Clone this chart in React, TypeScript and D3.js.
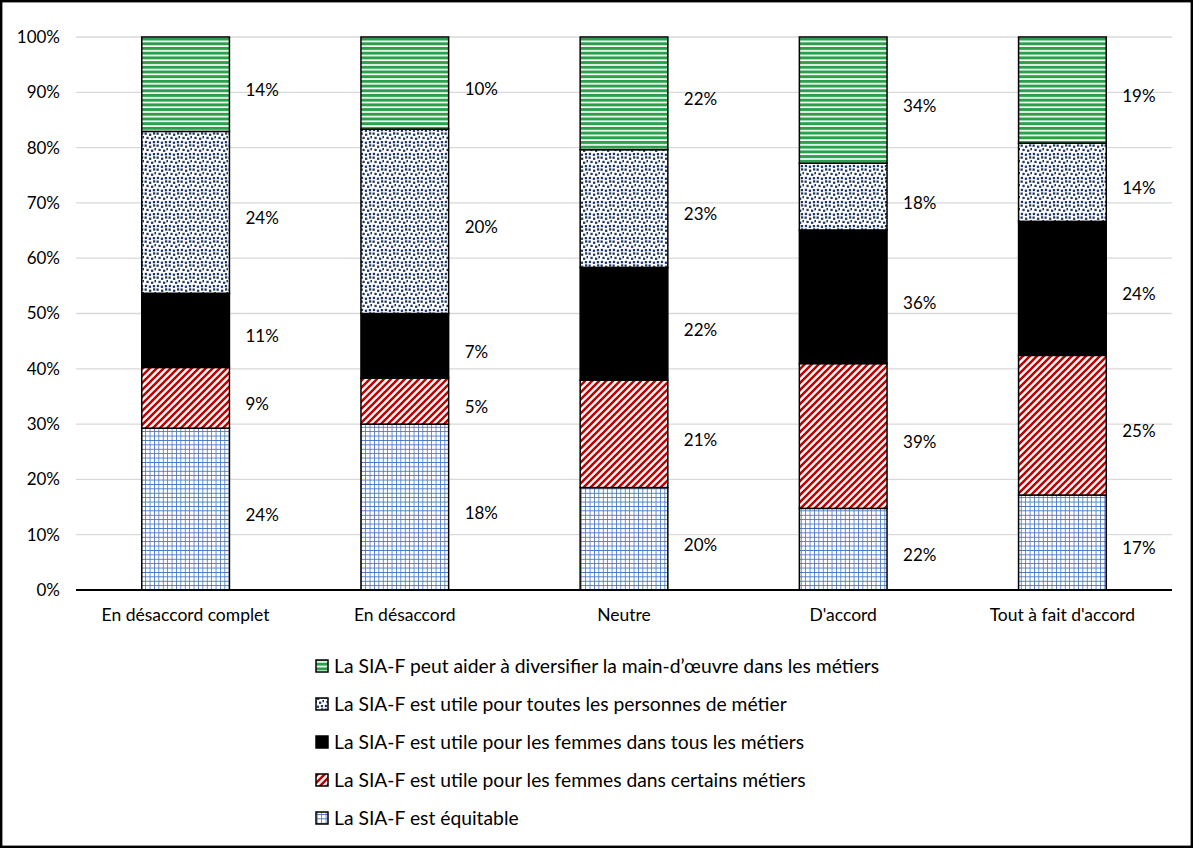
import React from 'react';
import * as d3 from 'd3';

const categories = ["En désaccord complet", "En désaccord", "Neutre", "D'accord", "Tout à fait d'accord"];
const equitable = [24, 18, 20, 22, 17];
const certains = [9, 5, 21, 39, 25];
const tous = [11, 7, 22, 36, 24];
const toutes = [24, 20, 23, 18, 14];
const diversifier = [14, 10, 22, 34, 19];
const yTicks = [0, 0.1, 0.2, 0.3, 0.4, 0.5, 0.6, 0.7, 0.8, 0.9, 1];

const seriesNames = [
    "La SIA-F est équitable",
    "La SIA-F est utile pour les femmes dans certains métiers",
    "La SIA-F est utile pour les femmes dans tous les métiers",
    "La SIA-F est utile pour toutes les personnes de métier",
    "La SIA-F peut aider à diversifier la main-d’œuvre dans les métiers",
];
const seriesFills = ["url(#p-grid)", "url(#p-diag)", "#000000", "url(#p-confetti)", "url(#p-stripe)"];

const W = 1193;
const H = 848;
const margin = { top: 37, right: 21, bottom: 258, left: 76 };
const FONT = "Lato, 'Open Sans', sans-serif";

// confetti squares inside a 12x12 tile
const confetti = [[0.5, 0.5], [5, 1.6], [9, 0.3], [2.4, 4.8], [7, 5.6], [10.4, 4], [0.8, 8.8], [4.8, 9.6], [8.8, 9]];

const App = () => {
    const allSeries = [equitable, certains, tous, toutes, diversifier];
    const table = categories.map((c, i) => {
        const row: any = { cat: c };
        allSeries.forEach((s, k) => { row["s" + k] = s[i]; });
        return row;
    });
    const keys = allSeries.map((_, k) => "s" + k);
    const stacked = d3.stack().keys(keys).offset(d3.stackOffsetExpand)(table);

    const x = d3.scaleBand()
        .domain(categories)
        .range([margin.left, W - margin.right])
        .paddingInner(0.6)
        .paddingOuter(0.3);
    const y = d3.scaleLinear()
        .domain([0, 1])
        .range([H - margin.bottom, margin.top]);
    const fmt = d3.format(".0%");

    const legendX = 316;
    const legendY = d3.scaleLinear().domain([0, 4]).range([666, 818]);

    return (
        <svg width={W} height={H} style={{ position: 'absolute', left: 0, top: 0, background: '#fff' }} fontFamily={FONT}>
            <defs>
                <pattern id="p-stripe" patternUnits="userSpaceOnUse" width="5" height="4.7">
                    <rect width="5" height="4.7" fill="#fff" />
                    <rect y="0" width="5" height="3" fill="#2ba04a" />
                </pattern>
                <pattern id="p-confetti" patternUnits="userSpaceOnUse" width="12" height="12">
                    <rect width="12" height="12" fill="#fff" />
                    {confetti.map(([cx, cy], i) => (
                        <rect key={i} x={cx} y={cy} width="2.3" height="2.3" fill="#1f3864" />
                    ))}
                </pattern>
                <pattern id="p-diag" patternUnits="userSpaceOnUse" width="7" height="7">
                    <rect width="7" height="7" fill="#fff" />
                    <path d="M-1,8 L8,-1 M-1,1 L1,-1 M6,8 L8,6" stroke="#c00000" strokeWidth="2.6" />
                </pattern>
                <pattern id="p-grid" patternUnits="userSpaceOnUse" width="4.4" height="4.4">
                    <rect width="4.4" height="4.4" fill="#fff" />
                    <path d="M0,0 L4.4,0 M0,0 L0,4.4" stroke="#4472c4" strokeWidth="1.6" />
                </pattern>
            </defs>

            {/* gridlines + y ticks */}
            {yTicks.map(t => (
                <g key={t}>
                    {t > 0 && (
                        <line x1={margin.left} x2={W - margin.right} y1={y(t)} y2={y(t)} stroke="#d9d9d9" strokeWidth={1.3} />
                    )}
                    <text x={60} y={y(t)} dy="0.35em" textAnchor="end" fontSize={17} fill="#000">{fmt(t)}</text>
                </g>
            ))}

            {/* bars */}
            {stacked.map((layer, k) => (
                <g key={layer.key}>
                    {layer.map((d, i) => (
                        <rect
                            key={i}
                            x={x(categories[i])}
                            width={x.bandwidth()}
                            y={y(d[1])}
                            height={y(d[0]) - y(d[1])}
                            fill={seriesFills[k]}
                            stroke="#000"
                            strokeWidth={1.5}
                        />
                    ))}
                </g>
            ))}

            {/* data labels */}
            {stacked.map((layer, k) => (
                <g key={"l" + layer.key}>
                    {layer.map((d, i) => (
                        <text
                            key={i}
                            x={(x(categories[i]) as number) + x.bandwidth() + 16}
                            y={(y(d[0]) + y(d[1])) / 2 + 6}
                            dy="0.35em"
                            fontSize={17}
                            fill="#000"
                        >{allSeries[k][i] + "%"}</text>
                    ))}
                </g>
            ))}

            {/* x axis */}
            <line x1={margin.left} x2={W - margin.right} y1={y(0)} y2={y(0)} stroke="#000" strokeWidth={1.8} />
            {categories.map(c => (
                <text key={c} x={(x(c) as number) + x.bandwidth() / 2} y={615} dy="0.35em" textAnchor="middle" fontSize={17.5} fill="#000">{c}</text>
            ))}

            {/* legend */}
            {seriesNames.map((n, k) => {
                const row = 4 - k;
                const cy = legendY(row);
                return (
                    <g key={n}>
                        <rect x={legendX} y={cy - 6} width={12} height={12} fill={seriesFills[k]} stroke="#000" strokeWidth={1.5} />
                        <text x={legendX + 18} y={cy} dy="0.35em" fontSize={19.3} fill="#000">{n}</text>
                    </g>
                );
            })}

            <rect x={1.2} y={1.2} width={W - 2.4} height={H - 2.4} fill="none" stroke="#000" strokeWidth={2.4} />
        </svg>
    );
};

export default App;
